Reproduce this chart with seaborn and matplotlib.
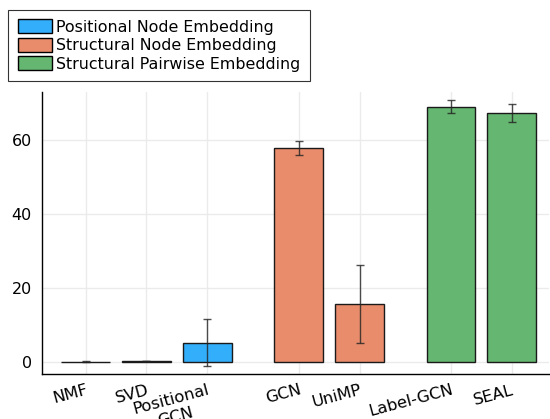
import matplotlib
matplotlib.use("Agg")
import matplotlib.pyplot as plt
import seaborn as sns
import pandas as pd
import numpy as np

methods = ["NMF", "SVD", "Positional\nGCN", "GCN", "UniMP", "Label-GCN", "SEAL"]
groups = ["Positional Node Embedding", "Positional Node Embedding", "Positional Node Embedding",
          "Structural Node Embedding", "Structural Node Embedding",
          "Structural Pairwise Embedding", "Structural Pairwise Embedding"]
values = [0.05, 0.15, 5.2, 57.8, 15.6, 68.9, 67.3]
errors = [0.05, 0.05, 6.35, 1.9, 10.5, 1.75, 2.45]
group_order = ["Positional Node Embedding", "Structural Node Embedding", "Structural Pairwise Embedding"]
palette = {"Positional Node Embedding": "#33AEFB",
           "Structural Node Embedding": "#E98C6C",
           "Structural Pairwise Embedding": "#65B671"}

# positions: index plus half-gap per group
gidx = [group_order.index(g) for g in groups]
pos = [i + 0.5 * g for i, g in enumerate(gidx)]

df = pd.DataFrame({"pos": pos, "value": values, "group": groups})

sns.set_style("white")
plt.rcParams["font.family"] = ["DejaVu Sans"]
plt.rcParams["text.color"] = "black"
plt.rcParams["xtick.color"] = "black"
plt.rcParams["ytick.color"] = "black"
plt.rcParams["xtick.labelcolor"] = "black"
plt.rcParams["ytick.labelcolor"] = "black"

fig = plt.figure(figsize=(5.5, 4.19), dpi=100)
ax = fig.add_axes([41.7 / 550, 1 - 374 / 419, (549 - 41.7) / 550, (374 - 92) / 419])

sns.barplot(data=df, x="pos", y="value", hue="group", hue_order=group_order,
            palette=palette, native_scale=True, dodge=False, width=0.8, saturation=1,
            errorbar=None, edgecolor="#1a1a1a", linewidth=1.0, ax=ax, legend=True, zorder=3)

ax.errorbar(pos, values, yerr=errors, fmt="none", ecolor="#222222", elinewidth=1.0,
            capsize=2.9, capthick=1.0, alpha=0.8, zorder=4)

ax.set_xlim(-0.72, 7.61)
ax.set_ylim(-3.3, 72.9)
ax.set_xticks(pos)
ax.set_xticklabels(methods, rotation=15, ha="right", rotation_mode="anchor",
                   multialignment="center", fontsize=11.8, color="black")
ax.set_yticks([0, 20, 40, 60])
ax.set_yticklabels(["0", "20", "40", "60"], fontsize=11.5, color="black")
ax.tick_params(axis="both", direction="in", length=4, width=1, color="black", pad=6)
ax.tick_params(axis="y", pad=7)
ax.set_xlabel("")
ax.set_ylabel("")
ax.grid(True, color="#ebebeb", linewidth=1.0, zorder=0)
ax.set_axisbelow(True)
for s in ["top", "right"]:
    ax.spines[s].set_visible(False)
for s in ["left", "bottom"]:
    ax.spines[s].set_color("black")
    ax.spines[s].set_linewidth(1.0)

handles, labels = ax.get_legend_handles_labels()
ax.get_legend().remove()
leg = ax.legend(handles, labels, loc="upper left", bbox_to_anchor=(8 / 550, 1 - 10 / 419),
                bbox_transform=fig.transFigure, fontsize=11.4, frameon=True, fancybox=False,
                edgecolor="black", borderaxespad=0, handlelength=2.15, handleheight=0.95,
                handletextpad=0.3, labelspacing=0.2, borderpad=0.6)
leg.get_frame().set_linewidth(0.8)
for t in leg.get_texts():
    t.set_color("black")
for h in leg.legend_handles:
    h.set_edgecolor("black")

fig.savefig("out.png", dpi=100)
